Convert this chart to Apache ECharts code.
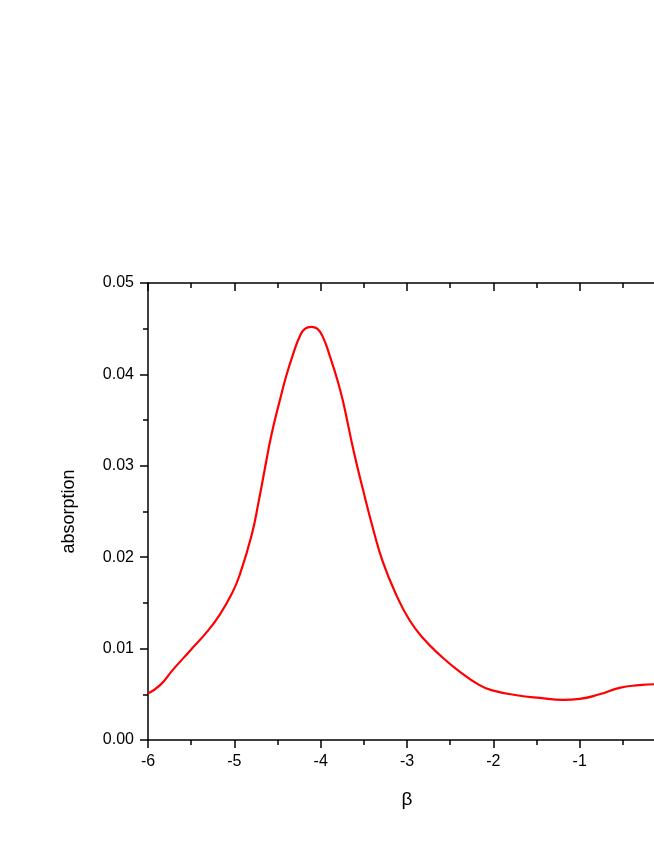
<!DOCTYPE html>
<html>
<head>
    <meta charset="UTF-8">
    <title>absorption</title>
    <script src="https://cdn.jsdelivr.net/npm/echarts@6/dist/echarts.min.js"></script>
    <style>
        html, body { margin: 0; padding: 0; background: #fff; overflow: hidden; }
        /* the original plot runs past the right edge of the window */
        #chart { width: 680px; height: 846px; }
    </style>
</head>
<body>
<div id="chart"></div>
<script type="text/javascript">
    // values
    var beta = [-6.0, -5.86, -5.71, -5.51, -5.32, -5.17, -5.03, -4.94, -4.80, -4.72, -4.646, -4.57, -4.472,
        -4.40, -4.32, -4.24, -4.18, -4.11, -4.04, -3.97, -3.89, -3.81, -3.74, -3.62, -3.51, -3.39, -3.28, -3.12, -2.97, -2.81,
        -2.62, -2.42, -2.16, -2.0, -1.73, -1.46, -1.19, -1.0, -0.77, -0.54, -0.31, -0.14, 0.0];
    var absorption = [0.0051, 0.0060, 0.0077, 0.0098, 0.0118, 0.0137, 0.0160, 0.0180, 0.0224, 0.0260, 0.0297, 0.0334, 0.0372,
        0.0398, 0.0422, 0.0442, 0.0450, 0.0452, 0.0450, 0.0440, 0.0419, 0.0395, 0.0370, 0.0317, 0.0274, 0.0230, 0.0195, 0.0158, 0.0131, 0.0111,
        0.0093, 0.0077, 0.0060, 0.0054, 0.0049, 0.0046, 0.0044, 0.0045, 0.0050, 0.0057, 0.0060, 0.0061, 0.0061];
    var xTicks = [-6, -5, -4, -3, -2, -1, 0];
    var yTicks = [0.00, 0.01, 0.02, 0.03, 0.04, 0.05];

    var points = [];
    for (var i = 0; i < beta.length; i++) {
        points.push([beta[i], absorption[i]]);
    }

    var myChart = echarts.init(document.getElementById('chart'));
    var axisFont = { fontFamily: 'Liberation Sans', fontSize: 16, color: '#000' };
    var lineStyle = { color: '#000', width: 1.5 };

    var option = {
        animation: false,
        grid: { left: 148, top: 283, width: 518, height: 457 },
        xAxis: [{
            type: 'value',
            min: xTicks[0], max: xTicks[xTicks.length - 1], interval: 1,
            name: 'β', nameLocation: 'middle', nameGap: 50,
            nameTextStyle: { fontFamily: 'Liberation Sans', fontSize: 19, color: '#000' },
            axisLine: { show: true, onZero: false, lineStyle: lineStyle },
            axisTick: { show: true, inside: false, length: 8, lineStyle: lineStyle },
            minorTick: { show: true, splitNumber: 2, length: 5, lineStyle: lineStyle },
            axisLabel: Object.assign({ margin: 14 }, axisFont),
            splitLine: { show: false }
        }, {
            type: 'value', position: 'top',
            min: xTicks[0], max: xTicks[xTicks.length - 1], interval: 1,
            axisLine: { show: true, onZero: false, lineStyle: lineStyle },
            axisTick: { show: true, inside: true, length: 8, lineStyle: lineStyle },
            minorTick: { show: true, splitNumber: 2, length: 5, lineStyle: lineStyle },
            axisLabel: { show: false },
            splitLine: { show: false }
        }],
        yAxis: [{
            type: 'value',
            min: yTicks[0], max: yTicks[yTicks.length - 1], interval: 0.01,
            name: 'absorption', nameLocation: 'middle', nameGap: 70,
            nameTextStyle: { fontFamily: 'Liberation Sans', fontSize: 18, color: '#000' },
            axisLine: { show: true, onZero: false, lineStyle: lineStyle },
            axisTick: { show: true, inside: false, length: 8, lineStyle: lineStyle },
            minorTick: { show: true, splitNumber: 2, length: 5, lineStyle: lineStyle },
            axisLabel: Object.assign({
                margin: 14,
                formatter: function (v) { return v.toFixed(2); }
            }, axisFont),
            splitLine: { show: false }
        }],
        series: [{
            type: 'line',
            data: points,
            smooth: 0.5,
            showSymbol: false,
            lineStyle: { color: '#ff0000', width: 2.2 },
            clip: true
        }]
    };
    myChart.setOption(option);
</script>
</body>
</html>
